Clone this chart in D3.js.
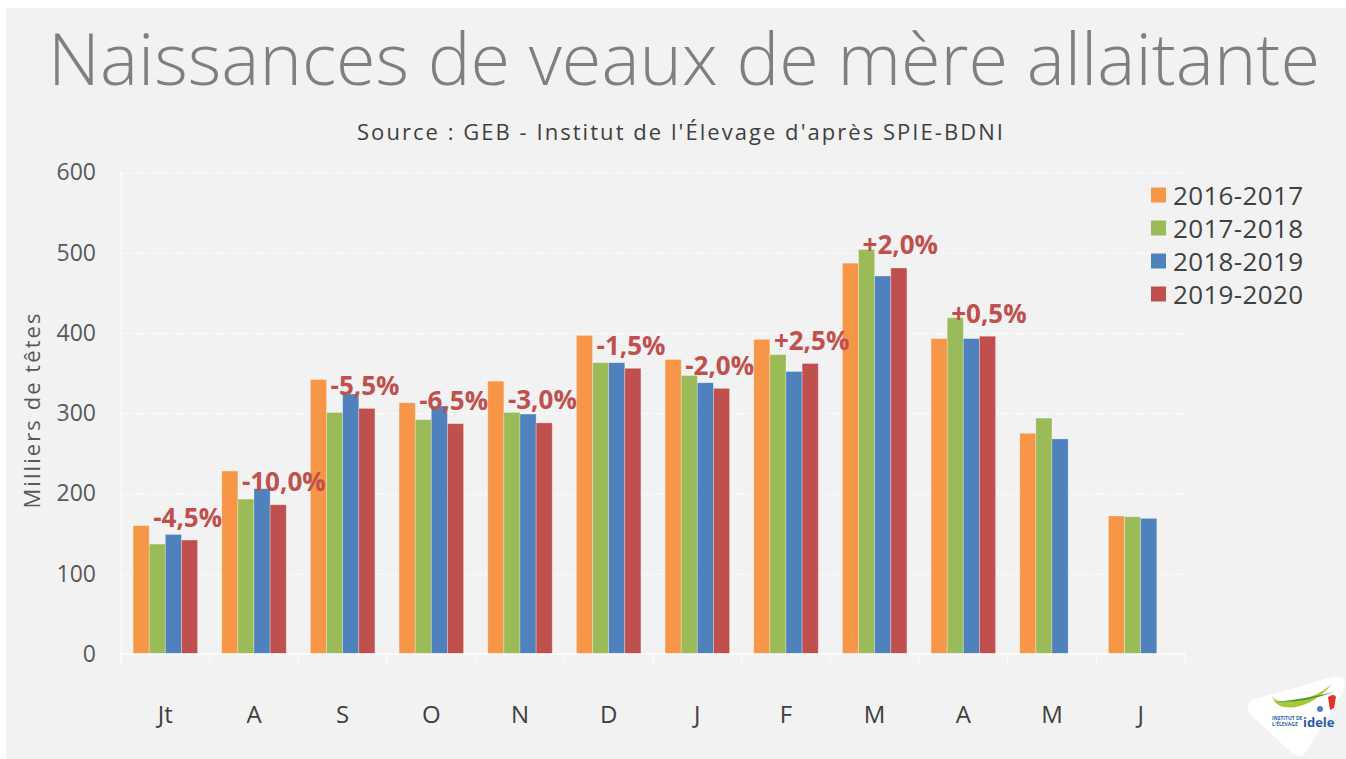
<!DOCTYPE html>
<html>
<head>
<meta charset="utf-8">
<script src="https://cdn.jsdelivr.net/npm/d3@7"></script>
<style>
  body { margin: 0; background: #ffffff; }
  svg { display: block; font-family: "Open Sans", "DejaVu Sans", sans-serif; }
</style>
</head>
<body>
<script>
// data (milliers de têtes)
var months = ["Jt", "A", "S", "O", "N", "D", "J", "F", "M", "A", "M", "J"];
var seasons = ["2016-2017", "2017-2018", "2018-2019", "2019-2020"];
var v1617 = [160, 228, 342, 313, 340, 397, 367, 392, 487, 393, 275, 172];
var v1718 = [137, 193, 301, 292, 301, 363, 347, 373, 504, 419, 294, 171];
var v1819 = [149, 206, 324, 309, 299, 363, 338, 352, 471, 393, 268, 169];
var v1920 = [142, 186, 306, 287, 288, 356, 331, 362, 481, 396, null, null];
var changes = ["-4,5%", "-10,0%", "-5,5%", "-6,5%", "-3,0%", "-1,5%", "-2,0%", "+2,5%", "+2,0%", "+0,5%", null, null];
var yTicks = [0, 100, 200, 300, 400, 500, 600];

var series = [v1617, v1718, v1819, v1920];
var colors = ["#f79646", "#9bbb59", "#4f81bd", "#c0504d"];

var width = 1346,
  height = 759;

var svg = d3.select("body")
  .append("svg")
  .attr("width", width)
  .attr("height", height);

// grey slide panel
svg.append("rect")
  .attr("x", 6)
  .attr("y", 8)
  .attr("width", width - 6)
  .attr("height", height - 8)
  .attr("fill", "#f2f2f2");

// title, stretched to the width of the original
var title = svg.append("text")
  .attr("x", 684)
  .attr("y", 85)
  .attr("text-anchor", "middle")
  .attr("fill", "#7f7f7f")
  .style("font-size", "62px")
  .style("font-weight", 300)
  .text("Naissances de veaux de mère allaitante");
var tw = title.node().getComputedTextLength();
title.style("font-size", (62 * 1272 / tw) + "px");

// source line, spaced out like the wide original font
svg.append("text")
  .attr("x", 680)
  .attr("y", 140)
  .attr("text-anchor", "middle")
  .attr("fill", "#404040")
  .attr("textLength", 646)
  .attr("lengthAdjust", "spacing")
  .style("font-size", "22px")
  .text("Source : GEB - Institut de l'Élevage d'après SPIE-BDNI");

// scales
var x0 = d3.scaleBand()
  .domain(d3.range(months.length))
  .range([121, 1185]);

var x1 = d3.scaleBand()
  .domain(seasons)
  .range([0, x0.bandwidth()])
  .paddingOuter(0.75);

var y = d3.scaleLinear()
  .domain([0, 600])
  .range([654, 172.5]);

// dashed gridlines
svg.append("g")
  .attr("transform", "translate(121,0)")
  .call(d3.axisLeft(y).tickValues(yTicks.slice(1)).tickSize(-1064).tickFormat(""))
  .call(function(g) {
    g.select(".domain").remove();
    g.selectAll("line")
      .attr("stroke", "#ffffff")
      .attr("stroke-width", 1)
      .attr("stroke-dasharray", "3,2");
  });

// y tick labels
svg.append("g")
  .attr("transform", "translate(121,0)")
  .call(d3.axisLeft(y).tickValues(yTicks).tickSize(0).tickPadding(25))
  .call(function(g) {
    g.select(".domain").remove();
    g.selectAll("text")
      .attr("fill", "#595959")
      .style("font-size", "23px")
      .style("font-family", "'Open Sans', sans-serif");
  });

// y axis title
svg.append("text")
  .attr("transform", "translate(40,411) rotate(-90)")
  .attr("text-anchor", "middle")
  .attr("fill", "#595959")
  .attr("textLength", 195)
  .attr("lengthAdjust", "spacing")
  .style("font-size", "22px")
  .text("Milliers de têtes");

// bars
var groups = svg.selectAll(".month")
  .data(months)
  .enter().append("g")
  .attr("class", "month")
  .attr("transform", function(d, i) {
    return "translate(" + x0(i) + ",0)";
  });

groups.selectAll("rect")
  .data(function(d, i) {
    return series.map(function(s, k) {
      return { season: seasons[k], value: s[i], color: colors[k] };
    }).filter(function(b) { return b.value != null; });
  })
  .enter().append("rect")
  .attr("x", function(d) { return x1(d.season); })
  .attr("width", x1.bandwidth())
  .attr("y", function(d) { return y(d.value); })
  .attr("height", function(d) { return y(0) - y(d.value); })
  .attr("fill", function(d) { return d.color; })
  .attr("stroke", "#ffffff")
  .attr("stroke-opacity", 0.35)
  .attr("stroke-width", 0.8);

// axis lines
svg.append("line")
  .attr("x1", 121).attr("x2", 121)
  .attr("y1", y(600)).attr("y2", 663)
  .attr("stroke", "#ffffff");

svg.append("line")
  .attr("x1", 121).attr("x2", 1185)
  .attr("y1", y(0)).attr("y2", y(0))
  .attr("stroke", "#ffffff")
  .attr("stroke-width", 1.3);

svg.selectAll(".xtick")
  .data(d3.range(months.length + 1))
  .enter().append("line")
  .attr("class", "xtick")
  .attr("x1", function(i) { return 121 + i * x0.step(); })
  .attr("x2", function(i) { return 121 + i * x0.step(); })
  .attr("y1", y(0))
  .attr("y2", 663)
  .attr("stroke", "#ffffff");

// x labels
svg.selectAll(".xlabel")
  .data(months)
  .enter().append("text")
  .attr("class", "xlabel")
  .attr("x", function(d, i) { return x0(i) + x0.bandwidth() / 2; })
  .attr("y", 723)
  .attr("text-anchor", "middle")
  .attr("fill", "#404040")
  .style("font-size", "24px")
  .text(function(d) { return d; });

// percent change labels, sitting above the 2019-2020 bar
svg.selectAll(".change")
  .data(changes)
  .enter().filter(function(d) { return d != null; })
  .append("text")
  .attr("class", "change")
  .attr("x", function(d, i) { return x0(i) + x1(seasons[1]) + 4; })
  .attr("y", function(d, i) { return y(v1920[i]) - 13.5; })
  .attr("fill", "#c0504d")
  .style("font-size", "26px")
  .style("font-weight", "bold")
  .text(function(d) { return d; });

// legend
var legend = svg.selectAll(".legend")
  .data(seasons)
  .enter().append("g")
  .attr("class", "legend")
  .attr("transform", function(d, i) {
    return "translate(1151," + (195 + i * 33) + ")";
  });

legend.append("rect")
  .attr("y", -7.5)
  .attr("width", 15)
  .attr("height", 15)
  .attr("fill", function(d, i) { return colors[i]; });

legend.append("text")
  .attr("x", 22)
  .attr("y", 9.5)
  .attr("fill", "#404040")
  .attr("textLength", 130)
  .attr("lengthAdjust", "spacing")
  .style("font-size", "26px")
  .text(function(d) { return d; });

// idele logo corner
var logo = svg.append("g");
logo.append("path")
  .attr("d", "M1252,700 Q1243,708 1252,716 L1292,753 Q1300,760 1306,752 L1344,690 Q1348,674 1332,677 Z")
  .attr("fill", "#ffffff");
logo.append("path")
  .attr("d", "M1272,696 Q1276,705 1300,700 Q1318,696 1332,684 Q1316,703 1296,707 Q1276,710 1272,696 Z")
  .attr("fill", "#a8c83a");
logo.append("path")
  .attr("d", "M1275,702 Q1305,703 1334,692 Q1305,699 1275,702 Z")
  .attr("fill", "#4f9a2e");
logo.append("path")
  .attr("d", "M1328,697 Q1334,693 1336,697 L1334,708 L1330,710 Z")
  .attr("fill", "#e4312b");
logo.append("circle")
  .attr("cx", 1320).attr("cy", 709).attr("r", 3)
  .attr("fill", "#4f81bd");
logo.append("text")
  .attr("x", 1272).attr("y", 720)
  .attr("fill", "#2a5ca8")
  .style("font-size", "5px")
  .style("font-weight", "bold")
  .text("INSTITUT DE");
logo.append("text")
  .attr("x", 1272).attr("y", 726)
  .attr("fill", "#2a5ca8")
  .style("font-size", "5px")
  .style("font-weight", "bold")
  .text("L'ÉLEVAGE");
logo.append("text")
  .attr("x", 1303).attr("y", 727)
  .attr("fill", "#2a5ca8")
  .style("font-size", "13px")
  .style("font-weight", "bold")
  .text("idele");
</script>
</body>
</html>
